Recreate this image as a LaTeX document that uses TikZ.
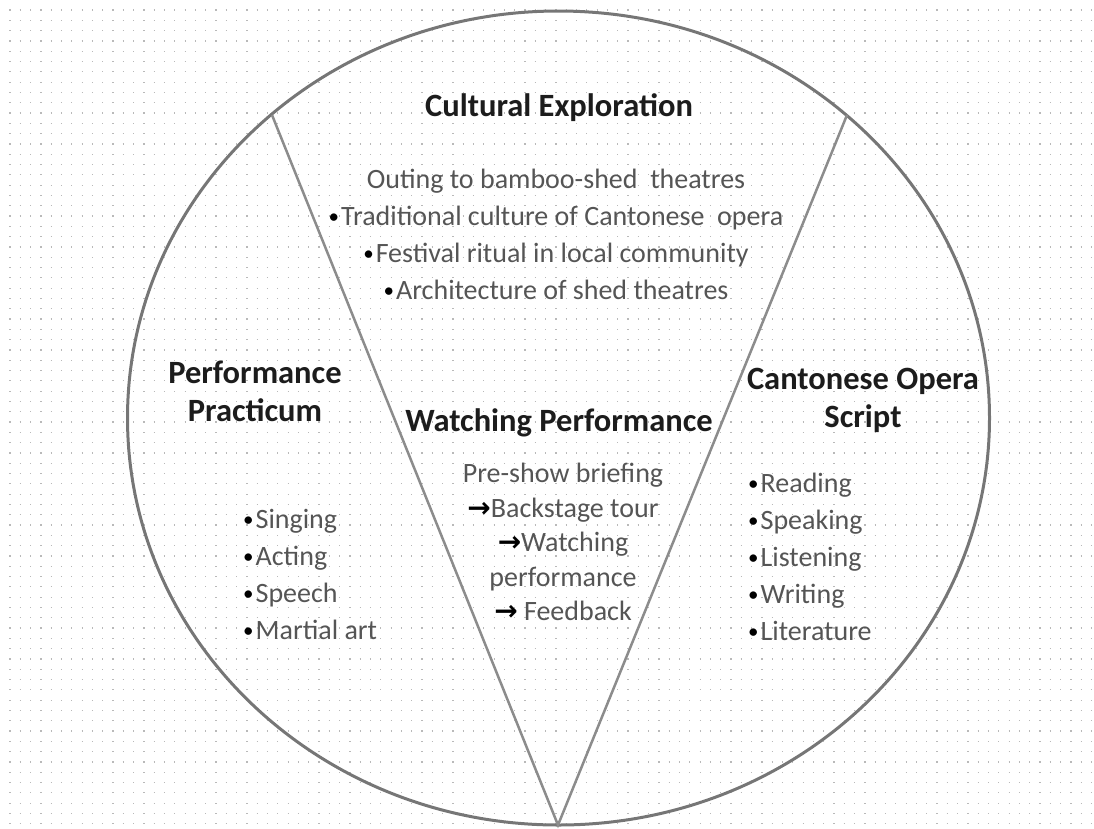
\documentclass[tikz,border=0pt]{standalone}
\usepackage{fontspec}
\usepackage{xcolor}
\usepackage{tikz}
\setmainfont{Carlito}
\newfontfamily\arrowfont{DejaVu Sans}
\definecolor{rimGray}{RGB}{118,118,118}
\definecolor{wedgeGray}{RGB}{140,140,140}
\definecolor{dotGray}{RGB}{185,185,185}
\definecolor{headInk}{RGB}{28,28,28}
\definecolor{bodyInk}{RGB}{85,85,85}
\newcommand{\bul}{\textcolor{black}{\raisebox{0.15ex}{\scalebox{0.75}{\textbullet}}}\kern2pt}
\newcommand{\arr}{{\arrowfont\bfseries\textcolor{black}{→}}}

\begin{document}
\begin{tikzpicture}[x=1pt,y=-1pt,
  heading/.style={text=headInk, align=center, font=\fontsize{32.5}{38}\selectfont\bfseries},
  listing/.style={text=bodyInk, align=center, font=\fontsize{28}{37}\selectfont, inner sep=0pt}]
\useasboundingbox (0,0) rectangle (1094,828);

% dotted paper
\foreach \r in {0,...,79}
  \draw[dotGray, line width=1.2pt, dash pattern=on 1.2pt off 9.1pt] (9.4,{10+10.3*\r}) -- (1092,{10+10.3*\r});

% circle and wedge
\draw[rimGray, line width=3pt] (558.5,418) ellipse[x radius=431, y radius=407];
\coordinate (tipL) at (272,115);
\coordinate (tipR) at (847,115);
\coordinate (apex) at (558,825);
\draw[wedgeGray, line width=2.5pt] (tipL) -- (apex) -- (tipR);

% top sector
\node[heading] (cult) at (559,108) {Cultural Exploration};
\node[listing] (cultlist) at (556,234) {Outing to bamboo-shed\ \ theatres\\
  \bul Traditional culture of Cantonese\ \ opera\\
  \bul Festival ritual in local community\\
  \bul Architecture of shed theatres};

% left sector
\node[heading] (prac) at (255,391) {Performance\\Practicum};
\node[listing, align=left, anchor=west] (praclist) at (243,574) {\bul Singing\\\bul Acting\\\bul Speech\\\bul Martial art};

% wedge
\node[heading] (watch) at (559,423) {Watching Performance};
\node[listing, font=\fontsize{28}{34.5}\selectfont] (watchlist) at (563,542) {Pre-show briefing\\
  \arr Backstage tour\\\arr Watching\\performance\\\arr\ Feedback};

% right sector
\node[heading] (script) at (863,400) {Cantonese Opera\\Script};
\node[listing, align=left, anchor=west] (scriptlist) at (748,557) {\bul Reading\\\bul Speaking\\\bul Listening\\\bul Writing\\\bul Literature};
\end{tikzpicture}
\end{document}
